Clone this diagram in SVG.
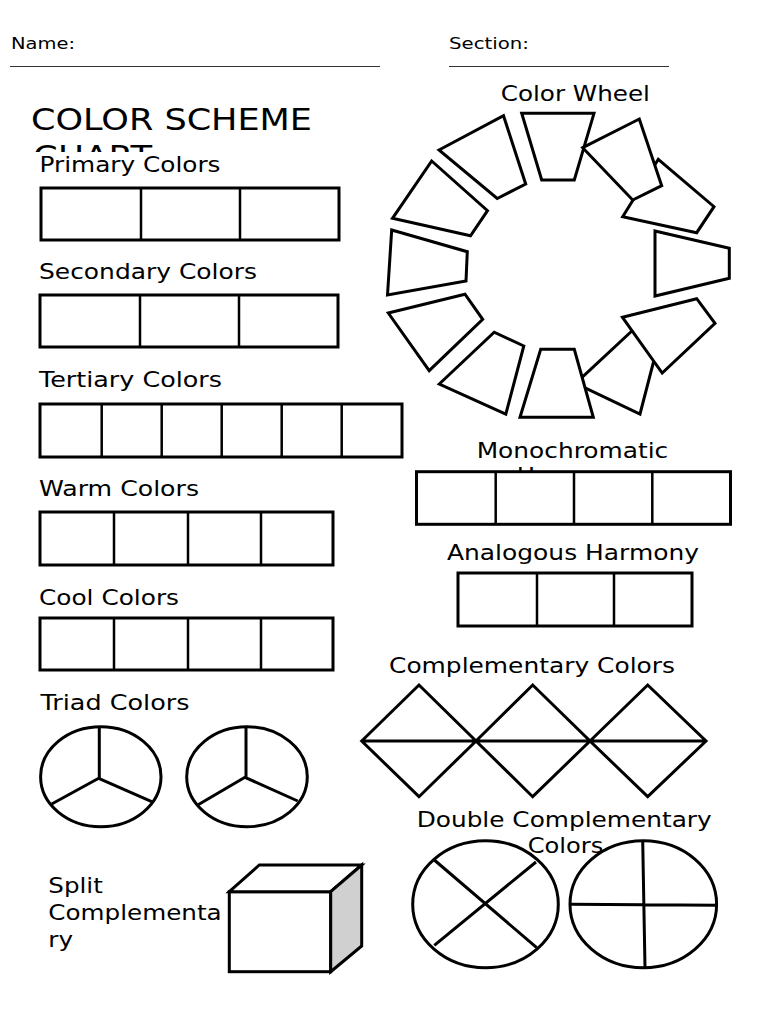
<svg xmlns="http://www.w3.org/2000/svg" width="768" height="1024" viewBox="0 0 768 1024">
<style>
text{font-family:"DejaVu Sans","Liberation Sans",sans-serif;fill:#000}
.hdr{font-size:16.5px}
.ttl{font-size:31px}
.lbl{font-size:20.5px}
.ul{stroke:#333;stroke-width:1}
.b{fill:#fff;stroke:#000;stroke-width:3}
.d{fill:none;stroke:#000;stroke-width:2.5}
.s{fill:none;stroke:#000;stroke-width:3}
.w{fill:#fff;stroke:#000;stroke-width:3;stroke-linejoin:miter}
</style>
<defs>
<clipPath id="chartClip"><rect x="0" y="120" width="400" height="32"/></clipPath>
</defs>
<rect width="768" height="1024" fill="#fff"/>

<g id="header">
<text class="hdr" x="11" y="49.3" textLength="64" lengthAdjust="spacingAndGlyphs">Name:</text>
<line class="ul" x1="10" y1="66.5" x2="380" y2="66.5"/>
<text class="hdr" x="449" y="49.3" textLength="80" lengthAdjust="spacingAndGlyphs">Section:</text>
<line class="ul" x1="449" y1="66.5" x2="669" y2="66.5"/>
</g>

<g id="title">
<text class="ttl" x="31" y="130" textLength="281" lengthAdjust="spacingAndGlyphs">COLOR SCHEME</text>
<text class="ttl" x="33" y="166.7" textLength="119" lengthAdjust="spacingAndGlyphs" clip-path="url(#chartClip)">CHART</text>
</g>

<g id="primary">
<text class="lbl" x="39.5" y="171.7" textLength="181" lengthAdjust="spacingAndGlyphs">Primary Colors</text>
<rect class="b" x="41" y="188" width="298" height="52"/>
<path class="d" d="M141 188V240M240 188V240"/>
</g>

<g id="secondary">
<text class="lbl" x="39" y="279" textLength="218" lengthAdjust="spacingAndGlyphs">Secondary Colors</text>
<rect class="b" x="40" y="295" width="298" height="52"/>
<path class="d" d="M140 295V347M239 295V347"/>
</g>

<g id="tertiary">
<text class="lbl" x="39" y="387" textLength="183" lengthAdjust="spacingAndGlyphs">Tertiary Colors</text>
<rect class="b" x="40" y="404" width="362" height="53"/>
<path class="d" d="M101.7 404V457M161.7 404V457M221.7 404V457M281.7 404V457M341.7 404V457"/>
</g>

<g id="warm">
<text class="lbl" x="39" y="496" textLength="160" lengthAdjust="spacingAndGlyphs">Warm Colors</text>
<rect class="b" x="40" y="512" width="293" height="53"/>
<path class="d" d="M114 512V565M188 512V565M261 512V565"/>
</g>

<g id="cool">
<text class="lbl" x="39" y="605" textLength="140" lengthAdjust="spacingAndGlyphs">Cool Colors</text>
<rect class="b" x="40" y="618" width="293" height="52"/>
<path class="d" d="M114 618V670M188 618V670M261 618V670"/>
</g>

<g id="triad">
<text class="lbl" x="40.5" y="710" textLength="149" lengthAdjust="spacingAndGlyphs">Triad Colors</text>
<ellipse class="s" cx="100.8" cy="776.7" rx="60.2" ry="50"/>
<path class="s" d="M99.3 727V778.3M98.7 778.3L51.7 804M98.7 778.3L151.7 801.7"/>
<ellipse class="s" cx="247" cy="776.7" rx="60.3" ry="50"/>
<path class="s" d="M246 727V777.3M245 777.3L197.7 805M245 777.3L297.7 801"/>
</g>

<g id="split">
<text class="lbl" x="48.3" y="893.3" textLength="54.5" lengthAdjust="spacingAndGlyphs">Split</text>
<text class="lbl" x="48.3" y="920" textLength="173.4" lengthAdjust="spacingAndGlyphs">Complementa</text>
<text class="lbl" x="48.3" y="946.7" textLength="24.7" lengthAdjust="spacingAndGlyphs">ry</text>
<rect class="w" x="229.3" y="891.7" width="101.4" height="80"/>
<polygon class="w" points="229.3,891.7 259.3,865 361.7,865 330.7,891.7"/>
<polygon class="w" style="fill:#d0d0d0" points="330.7,891.7 361.7,865 361.7,946 330.7,971.7"/>
</g>

<g id="color-wheel">
<text class="lbl" x="500.7" y="100.7" textLength="149.3" lengthAdjust="spacingAndGlyphs">Color Wheel</text>
<polygon class="w" points="575.6,383.3 644.2,319.5 658.5,342.7 640,414"/>
<polygon class="w" points="658.3,159.3 714,206.7 696.7,232.7 622.7,216.7"/>
<polygon class="w" points="521.7,113.3 594,113.3 574.3,180 541.7,180"/>
<polygon class="w" points="439,150 503.5,115.7 525.7,184 497.2,198.5"/>
<polygon class="w" points="431.7,161 487.5,210.7 470.5,235.8 392.5,218.3"/>
<polygon class="w" points="391.7,230 467.3,251.7 466,281 387.5,295"/>
<polygon class="w" points="388.3,313 465,294.2 482.7,319.3 429.2,370.7"/>
<polygon class="w" points="439.3,384 494.2,332.2 523.8,346 505.8,414.2"/>
<polygon class="w" points="520,417.3 593.3,417.3 574.3,349.3 540.7,349.3"/>
<polygon class="w" points="622.5,317.3 696.7,298.7 715,323.3 662.2,373"/>
<polygon class="w" points="655,231 729.3,248.3 729.3,278.3 655,296"/>
<polygon class="w" points="582.7,147.7 639.3,119 661.7,185.7 632.7,200"/>
</g>

<g id="monochromatic">
<text class="lbl" x="476.7" y="458.3" textLength="191.6" lengthAdjust="spacingAndGlyphs">Monochromatic</text>
<text class="lbl" x="516.7" y="482.7" textLength="111.5" lengthAdjust="spacingAndGlyphs">Harmony</text>
<rect class="b" x="416.5" y="471.7" width="314" height="52.6"/>
<path class="d" d="M495.7 471.7V524.3M574 471.7V524.3M652.3 471.7V524.3"/>
</g>

<g id="analogous">
<text class="lbl" x="447" y="560" textLength="252" lengthAdjust="spacingAndGlyphs">Analogous Harmony</text>
<rect class="b" x="458" y="573" width="234" height="53"/>
<path class="d" d="M537 573V626M614 573V626"/>
</g>

<g id="complementary">
<text class="lbl" x="389" y="673.3" textLength="286" lengthAdjust="spacingAndGlyphs">Complementary Colors</text>
<path class="s" d="M361.7 741L419 685L476 741L419 796.7ZM476 741L532.7 685L590 741L532.7 796.7ZM590 741L647.7 685L706 741L647.7 796.7ZM361.7 741H706"/>
</g>

<g id="double-complementary">
<ellipse class="s" cx="485.5" cy="904.2" rx="72.8" ry="63.5"/>
<path class="s" d="M434.3 860L536.7 947.7M536 862L434.3 945.3"/>
<ellipse class="s" cx="643.3" cy="904.2" rx="73.3" ry="63.5"/>
<path class="s" d="M642.7 840.7L645 967.7M570 904.3L716.7 905.3"/>
<text class="lbl" x="416.7" y="826.7" textLength="295" lengthAdjust="spacingAndGlyphs">Double Complementary</text>
<text class="lbl" x="527.7" y="853.3" textLength="75.6" lengthAdjust="spacingAndGlyphs">Colors</text>
</g>
</svg>
